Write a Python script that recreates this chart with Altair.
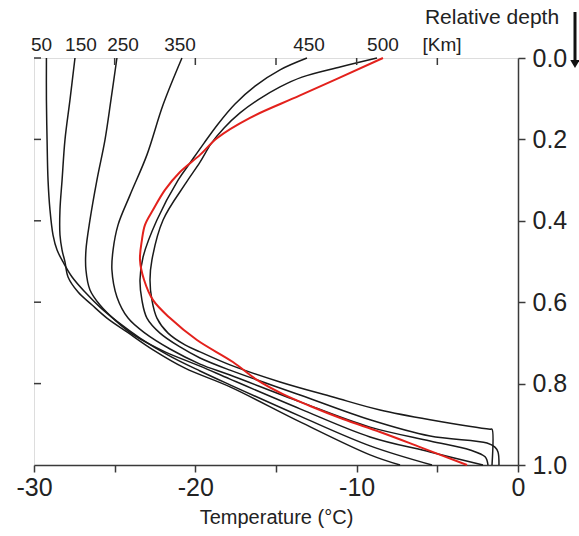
import altair as alt
import pandas as pd

# ---- data: relative depth (0 top .. 1 bottom) vs temperature (°C) ----
d_50 = [0, 0.103, 0.201, 0.300, 0.373, 0.435, 0.472, 0.501, 0.538, 0.575, 0.612, 0.649, 0.688, 0.730, 0.769, 0.803, 0.880, 0.953, 1.0]
t_50 = [-29.23, -29.23, -29.19, -29.13, -29.01, -28.82, -28.57, -28.20, -27.64, -26.84, -25.91, -24.79, -23.43, -21.69, -19.71, -17.85, -13.51, -9.17, -5.33]

d_150 = [0, 0.103, 0.201, 0.300, 0.373, 0.435, 0.472, 0.501, 0.538, 0.575, 0.607, 0.639, 0.673, 0.717, 0.762, 0.808, 0.894, 0.975, 1.0]
t_150 = [-27.46, -27.77, -28.08, -28.26, -28.39, -28.39, -28.26, -28.08, -27.89, -27.27, -26.40, -25.48, -24.24, -22.62, -20.64, -17.85, -13.51, -9.17, -7.31]

d_250 = [0, 0.103, 0.201, 0.300, 0.398, 0.472, 0.521, 0.570, 0.607, 0.644, 0.683, 0.722, 0.757, 0.789, 0.862, 0.931, 0.968, 1.0]
t_250 = [-24.86, -25.23, -25.60, -26.10, -26.53, -26.78, -26.78, -26.53, -25.91, -24.98, -23.74, -21.88, -19.71, -17.85, -13.51, -9.17, -5.45, -2.17]

d_350 = [0, 0.115, 0.238, 0.337, 0.410, 0.472, 0.521, 0.587, 0.639, 0.676, 0.715, 0.752, 0.779, 0.845, 0.907, 0.941, 0.963, 0.980, 1.0]
t_350 = [-20.83, -22.00, -23.00, -24.05, -24.79, -25.10, -25.17, -24.86, -24.17, -23.12, -21.57, -19.71, -17.85, -13.51, -9.17, -5.45, -2.97, -2.04, -1.86]

d_450 = [0, 0.029, 0.069, 0.113, 0.162, 0.209, 0.258, 0.300, 0.398, 0.489, 0.545, 0.595, 0.639, 0.676, 0.710, 0.737, 0.767, 0.828, 0.889, 0.929, 0.946, 0.956, 0.968, 1.0]
t_450 = [-13.08, -14.75, -16.30, -17.54, -18.59, -19.46, -20.33, -21.07, -22.38, -23.24, -23.43, -23.31, -23.00, -22.19, -20.95, -19.71, -17.85, -13.51, -9.17, -5.45, -1.92, -1.43, -1.24, -1.18]

d_500 = [0, 0.022, 0.047, 0.071, 0.103, 0.135, 0.172, 0.211, 0.256, 0.307, 0.398, 0.496, 0.545, 0.595, 0.639, 0.676, 0.705, 0.722, 0.754, 0.796, 0.833, 0.865, 0.889, 0.912, 0.912, 1.0]
t_500 = [-8.74, -11.03, -13.39, -14.75, -16.12, -17.23, -18.22, -19.03, -19.71, -20.58, -22.00, -22.69, -22.81, -22.69, -22.38, -21.69, -20.64, -19.71, -17.85, -14.75, -11.47, -8.55, -5.45, -1.73, -1.61, -1.61]

d_red = [0, 0.092, 0.147, 0.197, 0.238, 0.280, 0.324, 0.373, 0.410, 0.447, 0.496, 0.545, 0.595, 0.639, 0.693, 0.747, 0.791, 0.826, 0.855, 0.887, 0.919, 0.956, 1.0]
t_red = [-8.37, -13.51, -16.61, -18.66, -19.71, -20.95, -21.88, -22.62, -23.12, -23.31, -23.43, -23.18, -22.62, -21.57, -19.90, -17.67, -16.18, -14.57, -12.89, -10.85, -8.55, -6.07, -3.16]

# curve labels along the top (km) and where they sit on the temperature scale
top_labels = ["50", "150", "250", "350", "450", "500", "[Km]"]
top_label_t = [-29.53, -27.09, -24.48, -20.95, -12.95, -8.37, -4.71]

x_ticks = [-30, -25, -20, -15, -10, -5, 0]
y_ticks = [0.0, 0.2, 0.4, 0.6, 0.8, 1.0]
top_inner_ticks = [-25, -20, -15, -10, -5]
left_inner_ticks = [0.0, 0.2, 0.4, 0.6, 0.8]

# ---- build tables ----
black_rows = []
for name, ts, ds in [("50", t_50, d_50), ("150", t_150, d_150), ("250", t_250, d_250),
                     ("350", t_350, d_350), ("450", t_450, d_450), ("500", t_500, d_500)]:
    for i, (t, d) in enumerate(zip(ts, ds)):
        black_rows.append({"curve": name, "order": i, "T": t, "depth": d})
black_df = pd.DataFrame(black_rows)
red_df = pd.DataFrame({"order": range(len(t_red)), "T": t_red, "depth": d_red})
label_df = pd.DataFrame({"T": top_label_t, "label": top_labels})
top_tick_df = pd.DataFrame({"T": top_inner_ticks})
left_tick_df = pd.DataFrame({"depth": left_inner_ticks})
one_row = pd.DataFrame({"k": [0]})

FONT = "Liberation Sans"
AX = "#3a3a3a"

x_scale = alt.Scale(domain=[-30, 0], nice=False, zero=False)
y_scale = alt.Scale(domain=[0, 1], reverse=True, nice=False, zero=False)

x_axis = alt.Axis(values=x_ticks, labelExpr="datum.value % 10 == 0 ? '' + datum.value : ''",
                  title="Temperature (°C)", grid=False, tickSize=7, tickWidth=1.5,
                  domainWidth=1.5, domainColor=AX, tickColor=AX, labelFontSize=25,
                  labelPadding=3, titleFontSize=20, titleFontWeight="normal",
                  titlePadding=7, labelColor="#222", titleColor="#222", labelFlush=False)
y_axis = alt.Axis(orient="right", values=y_ticks, format=".1f", title=None, grid=False,
                  tickSize=7, tickWidth=1.5, domainWidth=1.5, domainColor=AX, tickColor=AX,
                  labelFontSize=25, labelPadding=7, labelColor="#222", labelFlush=False)

X = alt.X("T:Q", scale=x_scale, axis=x_axis)
Y = alt.Y("depth:Q", scale=y_scale, axis=y_axis)

black = alt.Chart(black_df).mark_line(color="#1a1a1a", strokeWidth=1.5, interpolate="catmull-rom").encode(
    x=X, y=Y, detail="curve:N", order=alt.Order("order:Q"),
)

red = alt.Chart(red_df).mark_line(color="#e3211c", strokeWidth=2, interpolate="catmull-rom").encode(
    x=X, y=Y, order=alt.Order("order:Q"),
)

top_ticks = alt.Chart(top_tick_df).mark_rule(color=AX, strokeWidth=1.5).encode(
    x=X, y=alt.value(0), y2=alt.value(7),
)
left_ticks = alt.Chart(left_tick_df).mark_rule(color=AX, strokeWidth=1.5).encode(
    y=Y, x=alt.value(0), x2=alt.value(7),
)

labels = alt.Chart(label_df).mark_text(font=FONT, fontSize=19, color="#222", baseline="middle").encode(
    x=X, y=alt.value(-13), text="label:N",
)

rel_depth = alt.Chart(one_row).mark_text(font=FONT, fontSize=21, color="#222", baseline="middle",
                                          text="Relative depth").encode(
    x=alt.value(458), y=alt.value(-40)
)
arrow_shaft = alt.Chart(one_row).mark_rule(color="#111", strokeWidth=3).encode(
    x=alt.value(541), y=alt.value(-46), y2=alt.value(3)
)
arrow_head = alt.Chart(one_row).mark_point(shape="triangle-down", filled=True, size=90,
                                           color="#111", opacity=1).encode(
    x=alt.value(541), y=alt.value(6)
)

chart = alt.layer(black, red, top_ticks, left_ticks, labels, rel_depth, arrow_shaft, arrow_head).properties(
    width=484, height=407,
    autosize=alt.AutoSizeParams(type="none"),
    padding={"left": 34, "top": 58, "right": 61, "bottom": 71},
).configure_view(stroke=AX, strokeWidth=1.5).configure_axis(
    labelFont=FONT, titleFont=FONT
).configure(background="white")

chart.save("out.html", embed_options={"renderer": "svg", "actions": False})
